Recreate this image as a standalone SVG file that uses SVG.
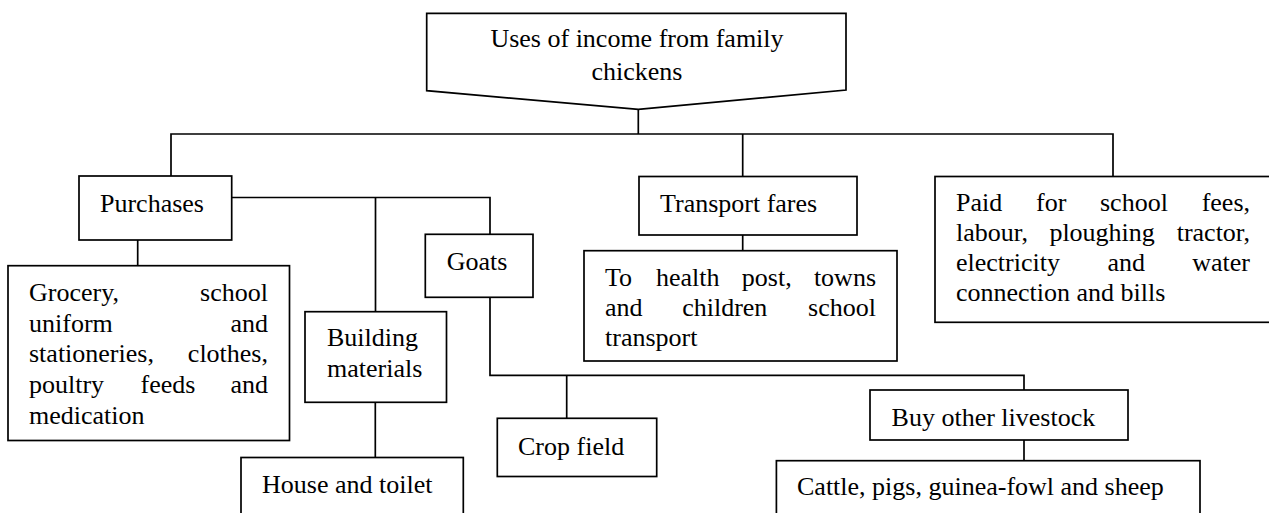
<svg xmlns="http://www.w3.org/2000/svg" width="1269" height="513" viewBox="0 0 1269 513">
<style>
.box{fill:#fff;stroke:#000;stroke-width:1.7}
.ln{fill:none;stroke:#000;stroke-width:1.7}
text{font-family:"Liberation Serif","Times New Roman",serif;font-size:26px;fill:#000}
.e{text-anchor:end}
.m{text-anchor:middle}
</style>
<rect width="1269" height="513" fill="#fff"/>
<g id="connectors" class="ln">
<path d="M638.3,109.3V134"/>
<path d="M171,176V134H1113V176"/>
<path d="M742.7,134V176.5"/>
<path d="M137.7,240V265.7"/>
<path d="M231.7,197.5H490V234.3"/>
<path d="M375.5,197.5V311.7"/>
<path d="M375.3,402.3V457.5"/>
<path d="M490,297.3V375.3H1024V390"/>
<path d="M566.7,375.3V418.3"/>
<path d="M1024,440V460.7"/>
<path d="M742.7,235V250.7"/>
</g>
<g id="root">
<path class="box" d="M426.7,13.3H846V90L638.3,109.3L426.7,90.7Z"/>
<text class="m" x="637" y="47">Uses of income from family</text>
<text class="m" x="637" y="80">chickens</text>
</g>
<g id="purchases">
<rect class="box" x="79" y="176" width="152.7" height="64"/>
<text x="100" y="212">Purchases</text>
</g>
<g id="grocery">
<rect class="box" x="8" y="265.7" width="281.5" height="174.8"/>
<text x="29" y="301">Grocery,</text><text class="e" x="268" y="301">school</text>
<text x="29" y="331.5">uniform</text><text class="e" x="268" y="331.5">and</text>
<text x="29" y="362">stationeries,</text><text class="e" x="268" y="362">clothes,</text>
<text x="29" y="392.5">poultry</text><text x="140.5" y="392.5">feeds</text><text class="e" x="268" y="392.5">and</text>
<text x="29" y="423.5">medication</text>
</g>
<g id="goats">
<rect class="box" x="425.3" y="234.3" width="107.7" height="63"/>
<text x="446.7" y="270">Goats</text>
</g>
<g id="building">
<rect class="box" x="305" y="311.7" width="141.5" height="90.6"/>
<text x="327" y="345.7">Building</text>
<text x="327" y="377.3">materials</text>
</g>
<g id="house">
<rect class="box" x="241" y="457.5" width="222.3" height="70"/>
<text x="262" y="493.3">House and toilet</text>
</g>
<g id="crop">
<rect class="box" x="497.3" y="418.3" width="159.4" height="58.2"/>
<text x="518" y="455">Crop field</text>
</g>
<g id="transport">
<rect class="box" x="639" y="176.5" width="218" height="58.5"/>
<text x="660" y="212">Transport fares</text>
</g>
<g id="tohealth">
<rect class="box" x="584" y="250.7" width="313" height="110.3"/>
<text x="605" y="286">To</text><text x="656" y="286">health</text><text x="741.8" y="286">post,</text><text class="e" x="876" y="286">towns</text>
<text x="605" y="316">and</text><text x="682.2" y="316">children</text><text class="e" x="876" y="316">school</text>
<text x="605" y="346">transport</text>
</g>
<g id="paid">
<rect class="box" x="935" y="176.5" width="337" height="145.8"/>
<text x="956" y="210.7">Paid</text><text x="1036" y="210.7">for</text><text x="1100" y="210.7">school</text><text class="e" x="1250" y="210.7">fees,</text>
<text x="956" y="241">labour,</text><text x="1049.4" y="241">ploughing</text><text class="e" x="1250" y="241">tractor,</text>
<text x="956" y="271">electricity</text><text x="1107.4" y="271">and</text><text class="e" x="1250" y="271">water</text>
<text x="956" y="301">connection and bills</text>
</g>
<g id="buyother">
<rect class="box" x="870" y="390" width="258" height="50"/>
<text x="891.6" y="426">Buy other livestock</text>
</g>
<g id="cattle">
<rect class="box" x="776.4" y="460.7" width="423.6" height="70"/>
<text x="797" y="495">Cattle, pigs, guinea-fowl and sheep</text>
</g>
</svg>
